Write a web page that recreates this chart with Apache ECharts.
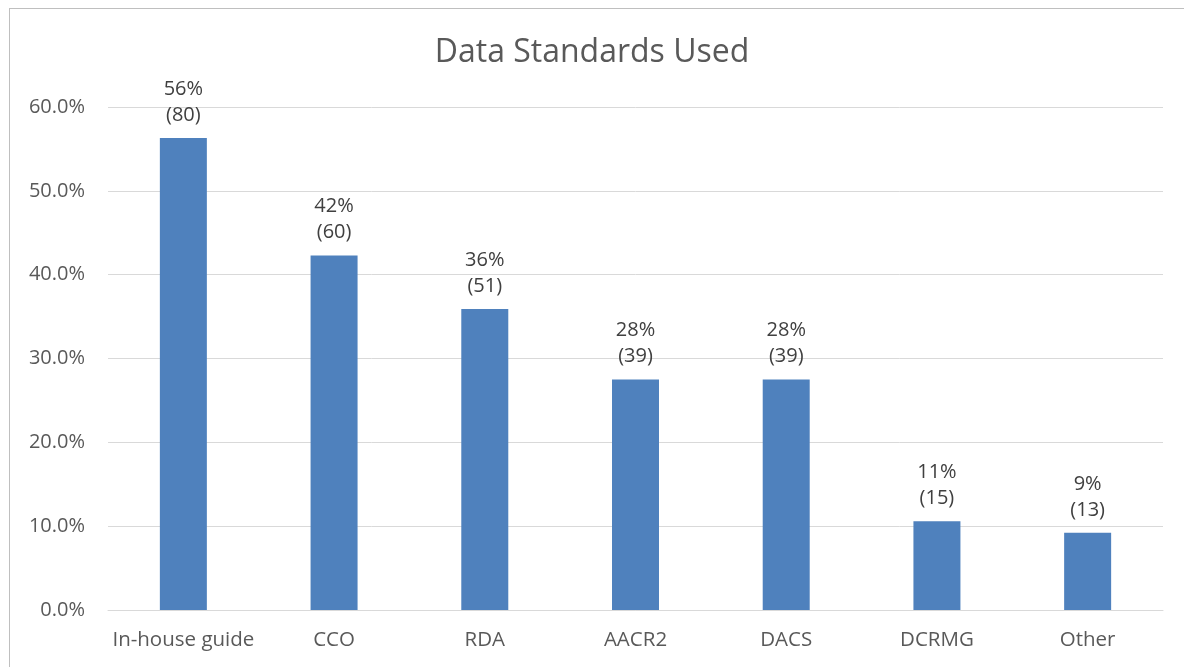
<!DOCTYPE html>
<html lang="en">
<head>
    <meta charset="UTF-8">
    <title>Data Standards Used</title>
    <script src="https://cdn.jsdelivr.net/npm/echarts@6/dist/echarts.min.js"></script>
    <style>
        html, body { margin: 0; padding: 0; background: #fff; }
        #frame { position: absolute; left: 9px; top: 8px; width: 1200px; height: 700px;
                 border-left: 1px solid #bfbfbf; border-top: 1px solid #bfbfbf; }
        #main { position: absolute; left: 0; top: 0; width: 1184px; height: 667px; }
    </style>
</head>
<body>
    <div id="frame"></div>
    <div id="main"></div>
    <script>
        var categories = ['In-house guide', 'CCO', 'RDA', 'AACR2', 'DACS', 'DCRMG', 'Other'];
        var percents = [56.3, 42.3, 35.9, 27.5, 27.5, 10.6, 9.2];
        var counts = [80, 60, 51, 39, 39, 15, 13];
        var yTicks = [0, 10, 20, 30, 40, 50, 60];

        var font = '"Open Sans", sans-serif';
        var mychart = echarts.init(document.getElementById('main'));

        var option = {
            animation: false,
            title: {
                text: 'Data Standards Used',
                left: 'center',
                top: 32,
                textStyle: { fontFamily: font, fontSize: 32, fontWeight: 'normal', color: '#595959' }
            },
            grid: { left: 108, right: 21, top: 107, bottom: 57 },
            xAxis: {
                type: 'category',
                data: categories,
                axisLine: { lineStyle: { color: '#d9d9d9', width: 1 } },
                axisTick: { show: false },
                axisLabel: { interval: 0, fontFamily: font, fontSize: 20.5, color: '#595959', margin: 20 }
            },
            yAxis: {
                type: 'value',
                min: yTicks[0],
                max: yTicks[yTicks.length - 1],
                interval: 10,
                axisLine: { show: false },
                axisTick: { show: false },
                splitLine: { lineStyle: { color: '#d9d9d9', width: 1 } },
                axisLabel: {
                    fontFamily: font, fontSize: 20, color: '#595959', margin: 23,
                    formatter: function (v) { return v.toFixed(1) + '%'; }
                }
            },
            series: [{
                type: 'bar',
                data: percents,
                barWidth: 47,
                itemStyle: { color: '#4f81bd' },
                label: {
                    show: true,
                    position: 'top',
                    distance: 10,
                    fontFamily: font,
                    fontSize: 20,
                    lineHeight: 26,
                    color: '#404040',
                    formatter: function (p) {
                        return Math.round(p.value) + '%\n(' + counts[p.dataIndex] + ')';
                    }
                }
            }]
        };

        mychart.setOption(option);
    </script>
</body>
</html>
